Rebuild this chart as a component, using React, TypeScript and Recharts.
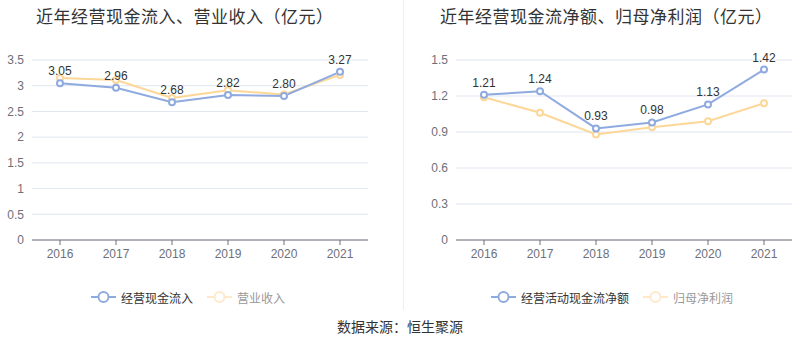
import { LineChart, Line, XAxis, YAxis, CartesianGrid, Legend, LabelList } from "recharts";

const years = ["2016", "2017", "2018", "2019", "2020", "2021"];
const cashInflow = [3.05, 2.96, 2.68, 2.82, 2.8, 3.27];
const revenue = [3.15, 3.11, 2.76, 2.91, 2.83, 3.21];
const netCashFlow = [1.21, 1.24, 0.93, 0.98, 1.13, 1.42];
const netProfit = [1.19, 1.06, 0.88, 0.94, 0.99, 1.14];

const leftTicks = [0, 0.5, 1, 1.5, 2, 2.5, 3, 3.5];
const rightTicks = [0, 0.3, 0.6, 0.9, 1.2, 1.5];

const BLUE = "#8eaadf";
const YELLOW = "#fdd797";
const FONT = "'Liberation Sans', 'Noto Sans CJK SC', sans-serif";

const leftData = years.map((y, i) => ({ year: y, a: cashInflow[i], b: revenue[i] }));
const rightData = years.map((y, i) => ({ year: y, a: netCashFlow[i], b: netProfit[i] }));

function LegendIcon({ color }: { color: string }) {
  return (
    <svg width={25} height={14} style={{ display: "block" }}>
      <line x1={0} y1={7} x2={25} y2={7} stroke={color} strokeWidth={2} />
      <circle cx={12.5} cy={7} r={5} fill="#fff" stroke={color} strokeWidth={2} />
    </svg>
  );
}

function makeLegend(nameA: string, nameB: string, shift: number) {
  return () => (
    <div style={{ display: "flex", justifyContent: "center", alignItems: "center", height: 20, paddingLeft: shift, fontFamily: FONT, fontSize: 12 }}>
      <LegendIcon color={BLUE} />
      <span style={{ marginLeft: 5, color: "#333" }}>{nameA}</span>
      <span style={{ width: 14 }} />
      <LegendIcon color="#feeacb" />
      <span style={{ marginLeft: 5, color: "#999" }}>{nameB}</span>
    </div>
  );
}

function Panel({ data, ticks, max, yWidth, right, nameA, nameB, shift }: any) {
  return (
    <LineChart width={400} height={358} data={data} margin={{ top: 60, right, bottom: 51, left: 0 }}>
      <CartesianGrid vertical={false} stroke="#e0e6f1" />
      <XAxis
        dataKey="year"
        height={47}
        padding={{ left: 28, right: 28 }}
        axisLine={{ stroke: "#6e7079" }}
        tickLine={{ stroke: "#6e7079" }}
        tickSize={5}
        tickMargin={4}
        tick={{ fill: "#6e7079", fontSize: 12, fontFamily: FONT }}
      />
      <YAxis
        width={yWidth}
        domain={[0, max]}
        ticks={ticks}
        axisLine={false}
        tickLine={false}
        tick={{ fill: "#6e7079", fontSize: 12, fontFamily: FONT }}
      />
      <Legend verticalAlign="bottom" content={makeLegend(nameA, nameB, shift)} />
      <Line dataKey="b" stroke={YELLOW} strokeWidth={2} dot={{ r: 3, fill: "#fff", stroke: YELLOW, strokeWidth: 2 }} isAnimationActive={false} />
      <Line dataKey="a" stroke={BLUE} strokeWidth={2} dot={{ r: 3, fill: "#fff", stroke: BLUE, strokeWidth: 2 }} isAnimationActive={false}>
        <LabelList dataKey="a" position="top" offset={8} fill="#333" fontSize={12} fontFamily={FONT} formatter={(v: any) => Number(v).toFixed(2)} />
      </Line>
    </LineChart>
  );
}

export default function App() {
  return (
    <div style={{ position: "absolute", left: 0, top: 0, width: 800, height: 358, background: "#fff", fontFamily: FONT }}>
      <div style={{ position: "absolute", left: 36, top: 3, fontSize: 17, color: "#333", letterSpacing: 0.5, whiteSpace: "nowrap" }}>
        近年经营现金流入、营业收入（亿元）
      </div>
      <div style={{ position: "absolute", left: 440, top: 3, fontSize: 17, color: "#333", letterSpacing: 0.5, whiteSpace: "nowrap" }}>
        近年经营现金流净额、归母净利润（亿元）
      </div>
      <div style={{ position: "absolute", left: 403, top: 0, width: 1, height: 310, background: "#eeeeee" }} />
      <div style={{ position: "absolute", left: 0, top: 0 }}>
        <Panel data={leftData} ticks={leftTicks} max={3.5} yWidth={32} right={32} nameA="经营现金流入" nameB="营业收入" shift={8} />
      </div>
      <div style={{ position: "absolute", left: 400, top: 0 }}>
        <Panel data={rightData} ticks={rightTicks} max={1.5} yWidth={56} right={8} nameA="经营活动现金流净额" nameB="归母净利润" shift={32} />
      </div>
      <div style={{ position: "absolute", left: 0, top: 316, width: 800, textAlign: "center", fontSize: 14, color: "#333" }}>
        数据来源：恒生聚源
      </div>
    </div>
  );
}
